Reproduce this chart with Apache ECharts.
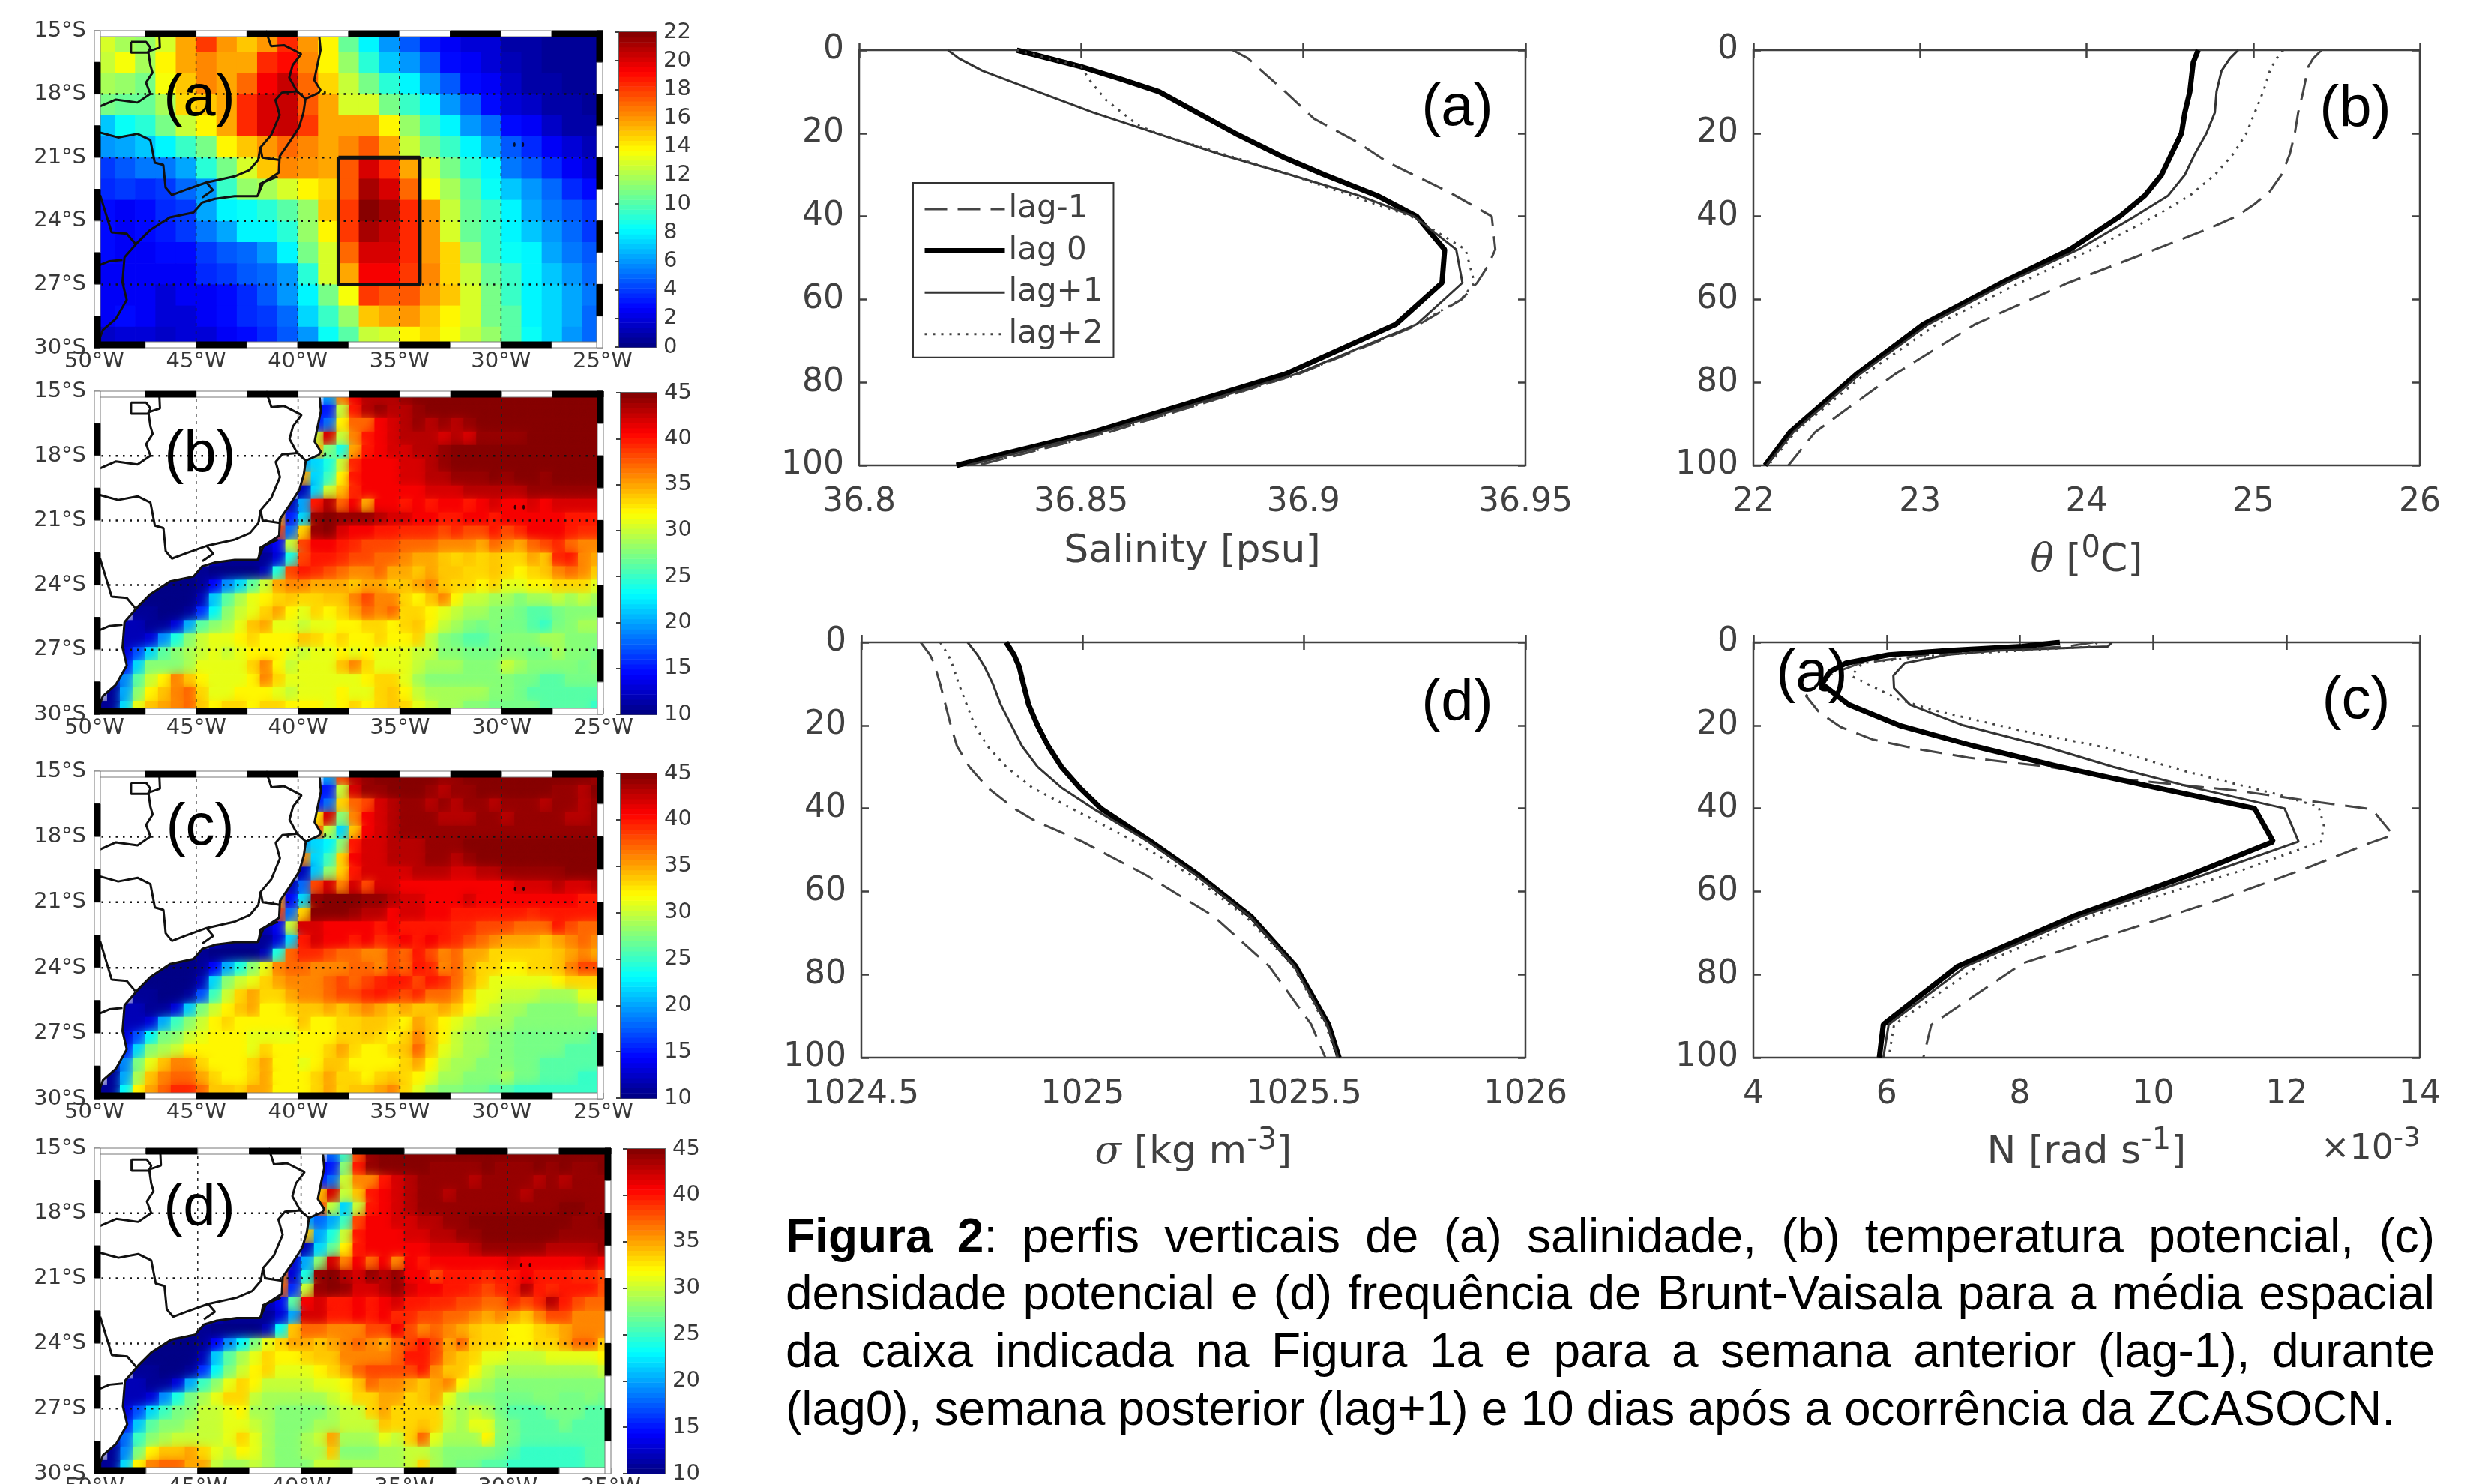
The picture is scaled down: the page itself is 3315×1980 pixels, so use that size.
<!DOCTYPE html>
<html><head><meta charset="utf-8">
<style>html,body{margin:0;padding:0;background:#fff}#c{width:3315px;height:1980px}</style>
<script src="https://cdn.jsdelivr.net/npm/echarts@6/dist/echarts.min.js"></script>
</head><body><div id="c"></div>
<script>
// ---------- profile data (depth in m) ----------
const lagNames=['lag-1','lag 0','lag+1','lag+2'];
const salDepthM1=[0,2,5,10,16.5,22,27,31,34.4,40,48,52,56,60,66,78,92,100];
const salM1=[36.8841,36.8876,36.8906,36.8959,36.9024,36.9119,36.9190,36.9267,36.9332,36.9424,36.9432,36.9415,36.9391,36.9356,36.9261,36.8989,36.8562,36.8266];
const salDepth0=[0,4,7,10,20,26,30,35,40,48,56,66,78,92,100];
const sal0=[36.8355,36.8500,36.8590,36.8675,36.8846,36.8960,36.9048,36.9166,36.9255,36.9318,36.9312,36.9208,36.8959,36.8527,36.8219];
const salDepthP1=[0,2,5,10,15,20,25,30,35,40,48,56,66,78,92,100];
const salP1=[36.8200,36.8225,36.8278,36.8402,36.8527,36.8669,36.8811,36.8971,36.9125,36.9249,36.9344,36.9358,36.9255,36.8983,36.8545,36.8243];
const salDepthP2=[0,4,7.5,12,18,20,30,40,48,56,60,66,78,92,100];
const salP2=[36.8355,36.8500,36.8521,36.8556,36.8627,36.8669,36.8971,36.9243,36.9365,36.9385,36.9355,36.9255,36.8989,36.8562,36.8261];

const thDepthM1=[0,2,4,10,15,20,25,30,34,37,40,43,48,56,66,78,92,100];
const thM1=[25.41,25.36,25.33,25.30,25.27,25.25,25.22,25.17,25.10,25.01,24.90,24.73,24.41,23.89,23.33,22.85,22.37,22.21];
const thDepth0=[0,3,10,15,20,25,30,35,40,48,56,66,78,92,100];
const th0=[24.67,24.64,24.62,24.59,24.57,24.51,24.45,24.35,24.20,23.90,23.49,23.02,22.62,22.22,22.07];
const thDepthP=[0,2,5,10,15,20,25,30,35,40,48,56,66,78,92,100];
const thP1=[24.91,24.86,24.81,24.78,24.77,24.72,24.65,24.59,24.49,24.29,23.95,23.52,23.05,22.64,22.24,22.08];
const thP2=[25.18,25.14,25.10,25.06,25.01,24.96,24.88,24.77,24.62,24.41,24.03,23.60,23.10,22.67,22.25,22.09];

const sgDepthM1=[0,3,5,10,15,20,25,30,35,40,43,48,56,66,78,92,100];
const sgM1=[1024.634,1024.655,1024.664,1024.678,1024.69,1024.702,1024.716,1024.744,1024.785,1024.845,1024.892,1024.999,1025.142,1025.296,1025.421,1025.516,1025.548];
const sgDepth=[0,3,6,10,15,20,25,30,35,40,48,56,66,78,92,100];
const sg0=[1024.827,1024.845,1024.857,1024.866,1024.878,1024.898,1024.922,1024.952,1024.993,1025.041,1025.154,1025.261,1025.380,1025.481,1025.555,1025.579];
const sgP1=[1024.740,1024.762,1024.779,1024.797,1024.815,1024.839,1024.863,1024.898,1024.952,1025.023,1025.148,1025.255,1025.377,1025.478,1025.552,1025.577];
const sgP2=[1024.678,1024.696,1024.708,1024.720,1024.738,1024.756,1024.785,1024.827,1024.886,1024.975,1025.118,1025.243,1025.368,1025.475,1025.548,1025.575];

const nDepthM1=[0,1,2,3,5,8,10.8,12.9,16.9,20.4,23.4,25.6,27.8,30,33.1,35.7,38.6,40.2,46.4,48.4,54.5,62.4,71.1,77.3,89.5,92.1,100];
const nM1=[9.1,8.7,7.6,6.6,5.6,5.1,4.91,4.79,4.99,5.31,5.79,6.43,7.23,8.44,9.64,11.24,12.52,13.28,13.6,13.24,12.28,10.92,9.24,8.04,6.91,6.67,6.55];
const nDepth0=[0,1,2,3,5,7,10,12,15,20,25,30,35,40,48,56,66,78,92,100];
const n0=[8.60,8.03,6.91,6.03,5.39,5.15,5.03,5.19,5.43,6.19,7.31,8.60,10.04,11.52,11.80,10.56,8.80,7.07,5.95,5.89];
const nDepthP1=[0,1,2,3,5,8,11,15,20,25,30,35,40,48,56,66,78,92,100];
const nP1=[9.38,9.32,7.64,6.91,6.27,6.10,6.11,6.35,7.15,8.36,9.40,10.6,11.97,12.18,10.76,8.92,7.19,6.03,5.95];
const nDepthP2=[0,1,2,3,5,8.1,13.8,16.2,21.3,25.2,30.9,36.7,39.6,44,48,55.4,65.9,77.7,92.1,100];
const nP2=[9.16,9.08,8.03,6.83,5.63,5.47,6.19,6.67,8.03,9.24,10.44,11.88,12.48,12.56,12.52,11.24,9.08,7.39,6.11,6.03];

// ---------- map tick labels ----------
const lonTicks=[-50,-45,-40,-35,-30,-25];
const latTicks=[-30,-27,-24,-21,-18,-15];
const boxLon=[-38,-34,-34,-38,-38];
const boxLat=[-21,-21,-27,-27,-21];
const islandsLon=[-29.34,-28.92,-38.67];
const islandsLat=[-20.39,-20.39,-17.93];

// ---------- map (a): 1 degree cells, 15S to 30S, 50W to 25W ----------
const fieldA=[
[13,12,11.5,13,15.5,18,16,15,16,18.5,16,14,10.5,8,6,4.5,3.2,2.7,2,1.8,1,.7,.5,.5,.5],
[12.5,13.5,12,14,15.5,16.5,15.5,15.5,18.5,19,16.5,14,11.5,9,7,6,4.5,3,2.5,1.8,1.2,.7,.6,.5,.5],
[12,11.5,11,13.5,15,16.5,15.5,17,19.5,20.5,17,14.5,12.5,11,9,8,6,4.5,3,2.5,1.5,1,.7,.5,.5],
[11,10.5,10.5,12,14.5,15,15.5,18.5,20,20.5,17.5,15.5,13,12.8,11,9.5,8,6,4.5,3,2,1.5,1,.7,.5],
[7,8.5,9,11,12.5,14,15.5,18.5,20,20.5,18,15.5,15.5,15.8,14,11.5,9.5,8,6,5,3,2.5,1.5,1,.7],
[6,6.5,7,8,9.5,11,14,15,16,17,16.5,15.5,16.5,17.5,15.5,12.5,11,9.5,8,6.5,4.5,3.5,2.7,1.8,1.2],
[4,4.5,5.5,5.5,6.5,9,11,13,15,16.5,16,15.5,17.5,20,18.5,15.5,13,11,9,8,5.5,4.5,3.5,2.5,2],
[3.5,4,3.5,4,5,6,9.5,11.5,12,13,14,14.5,17.5,21,20,17,13.5,12,10,8.5,7,6,5,3.5,3],
[3,2.7,3,3.5,4,6.5,8,8.5,9,10,11.5,15,18,22,21,18.5,16,12.5,10.5,9.5,8,6.5,5.5,4.5,3.8],
[3,2.7,3,3.2,4,5.5,6.5,8,8,9,11.5,14,18,21,20.5,18.5,16,13,10.5,9.5,8,7,6,5,4],
[3,2.5,2.7,3,3,4,4.5,5,6,8,11,13,17,20,20,18.5,16,14.5,11.5,9.5,8.5,8,6.5,5.5,4.5],
[2.5,2.7,2.7,2.5,2.5,3.5,4,4.5,5,6,9,13,15.5,19.5,19.5,18,16.5,14.5,12.5,10.5,9.5,8,7,6,5],
[2.5,2.7,2.5,2,2.5,2.7,3,3.5,4.5,6,8,11,13.5,18,17.5,17.5,16,15,13,11,9.5,8,7.5,6.5,5.5],
[2.5,3,2.7,2,2,2.5,3,3.5,4,5,7.5,9.5,11.5,15,15.5,16,15,14,12.8,11,10,8,7.5,6.5,5],
[1.5,2,1.8,1.5,1.8,2,2.7,3,3.5,4.5,6,8.5,10,12.5,13,14,14.5,13.5,12.5,11.5,10,8.5,7.5,6,5]];

// ---------- maps (b,c,d): 0.625 degree cells; each row lists ocean cells, aligned to the 25W edge ----------
const fieldB=[
[20,36,41,43,43,43,44,45,45,45,45,45,45,45,45,45,45,45,45,45,45,45],
[15,15,30,40,43,44,43,43,44,45,45,45,45,45,45,45,45,45,45,45,45,45,45],
[15,18,32,37,37,41,42,43,44,43,44,43,44,45,45,45,45,45,45,45,45,45,45],
[30,42,30,36,40,41,42,43,43,43,42,43,42,44,44,44,44,45,45,45,45,45,45],
[35,28,24,35,40,41,42,42,43,43,44,45,45,45,45,45,45,45,45,45,45,45,45],
[20,22,24,30,39,41,41,41,42,42,43,44,45,45,45,45,45,45,45,45,45,45,45,45],
[35,22,25,32,40,41,41,41,42,42,43,43,44,44,44,45,44,45,45,44,45,45,45,45],
[12,22,30,34,39,41,41,41,41,41,42,42,42,43,43,43,43,43,44,44,44,44,44,44],
[12,20,40,43,37,41,35,41,41,40,41,40,41,41,40,41,42,41,41,42,41,42,42,42,42],
[35,15,22,44,45,44,44,44,43,42,42,41,41,40,40,41,41,40,41,41,41,41,41,40,40,40],
[38,18,33,44,45,42,41,41,40,40,39,39,39,38,39,38,38,40,38,39,41,41,41,40,39,39],
[12,14,30,38,41,41,40,39,38,38,38,37,37,37,36,36,36,35,37,36,35,37,38,39,37,36,36],
[12,11,11,11,11,13,24,38,40,40,39,38,38,37,37,36,35,35,34,33,34,33,34,33,33,35,34,39,40,36,35],
[10,11,10,10,10,10,12,24,38,40,39,38,37,36,36,37,35,35,34,35,34,34,33,33,34,33,32,33,34,36,37,36,34],
[10,10,10,10,11,14,19,22,26,30,35,36,36,35,35,35,34,35,35,34,34,35,36,34,33,33,32,33,31,31,32,32,33,33,33,31],
[10,10,10,10,10,12,21,26,29,31,32,33,34,33,33,34,34,36,38,36,36,33,32,34,36,32,30,30,29,29,28,29,29,30,29,30,29],
[11,11,10,10,11,16,23,28,30,31,33,35,32,31,33,32,33,35,37,36,37,33,33,32,31,30,29,29,28,28,27,26,26,27,28,28,28],
[12,12,11,11,13,20,26,28,29,31,34,35,31,31,30,31,31,32,32,33,33,32,33,34,32,30,29,28,27,28,27,27,26,25,27,28,29,29],
[12,12,12,13,19,24,28,30,31,31,32,33,32,32,32,34,33,32,33,32,32,33,32,32,33,30,28,27,26,26,27,28,28,28,29,29,28,28,28],
[12,13,17,22,26,28,29,30,31,30,31,32,32,32,31,30,31,31,32,31,32,31,31,31,30,30,28,28,27,27,27,28,28,27,27,29,28,28,27],
[13,15,22,28,28,28,29,31,31,31,31,33,36,32,30,31,31,31,34,36,33,31,31,31,30,29,29,29,28,28,28,30,29,28,28,28,28,27,28],
[12,19,26,30,32,36,34,32,31,31,31,32,36,33,31,31,31,31,31,31,32,33,33,31,29,28,28,28,28,28,28,28,27,27,26,26,27,27,27],
[11,20,28,32,34,36,37,33,31,31,32,32,32,31,30,31,31,31,32,31,31,33,34,32,30,29,29,29,29,29,28,28,27,26,26,26,26,26,26],
[11,11,22,31,34,35,36,37,34,32,33,33,32,33,33,32,32,32,31,32,33,32,33,34,33,31,30,29,29,28,28,27,27,27,27,26,26,26,26,25]];
const fieldC=[
[20,38,43,44,45,45,45,45,45,44,44,45,45,45,45,45,45,45,45,45,45,44],
[15,15,30,42,44,44,45,45,45,44,43,44,44,45,45,45,45,45,45,44,44,43,45],
[15,18,33,37,38,42,43,44,44,43,44,43,44,44,43,44,44,44,43,44,44,43,44],
[32,42,28,36,41,42,43,44,44,44,43,43,43,44,44,43,44,44,44,44,43,43,44],
[38,30,22,34,41,42,43,44,44,44,44,44,44,44,44,44,44,44,44,44,44,44,44],
[20,22,23,28,40,42,42,43,43,43,44,44,44,45,45,45,45,45,45,45,45,45,45,45],
[36,22,25,33,41,42,42,43,43,43,44,44,43,44,45,45,45,45,45,45,45,45,45,45],
[12,21,28,33,40,42,42,42,42,43,43,43,42,42,43,43,44,44,44,44,44,45,45,45],
[12,18,38,42,36,42,38,42,42,41,41,41,41,41,41,41,41,41,42,42,42,43,42,42,43],
[35,14,22,44,45,45,45,44,44,43,42,42,41,41,41,42,41,41,41,41,41,41,41,41,40,40],
[38,18,33,45,45,45,44,43,43,41,42,42,41,41,40,40,40,40,40,40,39,40,40,40,40,40],
[12,14,30,42,42,41,41,41,41,40,41,40,40,40,40,39,39,38,38,38,37,37,37,40,38,37,37],
[12,11,11,11,11,13,22,40,42,41,41,40,41,39,40,41,40,41,40,39,38,37,36,35,35,35,34,35,36,37,36],
[10,11,10,10,10,10,12,24,37,39,39,38,37,37,36,36,38,37,40,38,36,37,35,35,33,33,33,33,33,34,35,36,35],
[10,10,10,10,11,14,20,24,28,31,36,37,37,36,36,36,37,37,36,38,37,40,39,36,37,35,33,33,32,32,33,33,34,36,38,38],
[10,10,10,10,10,12,22,28,30,31,33,35,36,36,36,37,38,37,38,39,40,40,38,40,39,37,35,33,31,31,31,31,31,32,33,33,33],
[11,11,10,10,11,17,25,30,33,35,33,33,35,36,36,37,38,38,39,40,39,38,39,37,37,36,33,31,31,30,30,30,29,29,29,31,31],
[12,12,11,11,13,21,27,30,32,34,35,32,32,33,34,34,35,34,35,36,35,34,35,34,34,35,34,32,31,30,29,29,28,28,28,28,29,29],
[12,12,12,13,20,25,28,30,32,33,32,32,32,32,32,34,32,32,33,33,34,34,33,32,35,34,32,31,30,29,29,29,28,28,28,28,28,28,28],
[12,13,17,23,27,28,30,31,32,32,32,31,31,31,31,32,32,32,33,33,34,33,32,33,36,34,32,30,29,29,28,28,27,27,27,27,27,27,26],
[13,15,22,28,29,30,32,32,32,32,32,31,33,32,32,32,32,33,35,33,32,32,33,34,37,34,31,30,29,29,28,28,27,27,27,27,26,26,26],
[12,19,27,31,34,36,36,33,32,32,32,33,35,32,32,31,32,34,34,32,32,32,32,33,35,32,30,29,29,28,28,28,27,27,26,26,26,26,26],
[11,20,29,34,36,37,37,35,33,32,32,33,35,32,32,32,33,35,33,33,32,33,34,33,32,31,29,29,28,28,28,29,27,27,26,26,26,25,25],
[11,11,23,32,35,37,39,39,37,34,34,33,35,35,32,32,32,33,35,33,34,34,35,36,33,31,29,28,28,27,27,26,26,25,25,25,25,25,25,25]];
const fieldD=[
[18,25,38,44,45,45,45,45,45,45,45,45,45,45,45,45,45,45,45,45,45,45],
[14,15,28,40,44,45,45,45,45,44,44,44,44,45,44,44,44,45,44,45,44,44,45],
[15,18,30,36,36,40,42,43,44,44,44,44,43,44,44,44,44,43,44,43,44,44,44],
[34,42,30,34,40,41,42,43,44,44,43,44,44,44,44,44,43,44,44,44,44,44,44],
[38,30,22,30,40,41,42,43,44,44,44,44,44,44,44,44,44,44,44,45,45,44,44],
[20,18,20,25,38,41,41,42,42,43,43,44,44,45,45,45,45,45,45,45,45,44,44,45],
[34,20,24,30,40,41,41,41,42,42,43,43,44,44,45,45,45,45,45,45,44,44,44,44],
[12,22,26,32,40,41,41,41,41,41,42,42,42,43,44,44,44,44,44,43,43,43,43,44],
[13,20,28,42,36,41,37,41,36,41,40,41,41,41,41,41,41,42,41,41,41,41,41,42,41],
[36,13,24,44,45,43,42,44,43,44,41,41,38,40,40,40,39,40,40,41,40,40,40,39,39,38],
[37,16,30,44,45,44,42,42,43,44,42,41,41,40,40,39,38,39,40,43,40,39,40,40,40,38],
[12,14,26,41,42,40,40,41,40,41,42,40,40,39,39,38,38,37,37,39,38,39,43,40,38,37,37],
[12,11,11,11,11,13,20,42,42,40,40,41,40,41,39,39,38,38,37,37,36,35,36,35,34,36,38,38,36,36,36],
[10,11,10,10,10,10,12,23,34,37,37,36,36,36,38,38,41,38,36,37,36,35,34,33,33,32,32,33,34,35,36,36,36],
[10,10,10,10,11,14,19,23,27,31,33,35,35,34,35,36,37,36,35,37,38,40,38,35,37,34,33,33,32,32,33,33,35,37,37,34],
[10,10,10,10,10,12,21,26,29,31,33,32,32,33,34,34,36,36,36,36,37,40,40,38,35,34,33,31,31,30,30,30,31,31,31,31,32],
[11,11,10,10,11,16,23,27,30,32,33,31,31,31,32,33,35,37,38,38,38,38,40,36,34,34,32,30,29,29,29,29,29,29,29,29,30],
[12,12,11,11,13,20,25,28,31,33,32,30,30,30,30,31,31,32,34,37,36,36,35,34,35,36,32,30,29,28,28,28,28,28,28,28,28,28],
[12,12,12,13,19,24,27,29,31,33,33,30,29,29,29,29,29,30,31,33,33,35,35,33,34,35,31,29,28,28,27,27,27,28,28,27,27,28,27],
[12,13,17,22,25,27,28,30,30,31,32,29,29,28,28,28,28,29,30,30,33,35,33,33,33,33,30,29,30,29,27,26,26,26,27,27,27,26,26],
[13,15,21,26,28,28,29,30,30,31,31,30,29,28,28,28,29,29,30,30,30,34,33,33,34,33,30,29,31,31,28,27,26,26,26,27,26,26,26],
[12,18,25,28,29,30,30,30,30,31,33,31,29,28,28,29,30,35,29,29,29,31,30,33,37,31,29,29,29,32,28,27,26,26,26,26,26,26,26],
[11,19,27,32,34,34,35,33,31,30,32,31,29,28,28,29,29,34,28,28,28,29,29,30,30,29,28,28,28,28,27,26,25,25,25,25,25,26,26],
[11,11,22,32,36,37,37,35,35,30,29,29,30,29,28,28,28,30,30,29,29,29,29,29,30,33,29,28,27,27,26,26,25,25,25,25,25,25,26,26]];

// ---------- coast and state borders [lon,lat] ----------
const coastLine=[[-38.94,-15],[-38.94,-15.3],[-38.88,-15.92],[-39.09,-16.87],[-39.19,-17.34],[-38.88,-17.81],[-38.98,-17.95],[-39.62,-18.22],[-39.72,-18.87],[-39.94,-19.58],[-40.42,-20.29],[-40.89,-20.94],[-40.93,-21.71],[-41.69,-22.18],[-41.99,-22.83],[-43.11,-22.83],[-44.07,-22.95],[-44.7,-23.13],[-45.13,-23.6],[-46.29,-23.83],[-47.25,-24.42],[-47.88,-25.02],[-48.52,-25.72],[-48.62,-26.9],[-48.41,-27.73],[-48.94,-28.62],[-49.58,-29.15],[-49.72,-29.5],[-49.72,-30]];
const borders=[
[[-46.82,-15],[-46.78,-15.8],[-47.35,-15.98],[-47.25,-16.63],[-47.14,-16.98],[-47.46,-17.46],[-47.25,-17.99],[-47.88,-18.4],[-48.94,-18.26],[-49.72,-18.58],[-50,-18.6]],
[[-48.2,-15.53],[-47.46,-15.53],[-47.25,-15.8],[-47.35,-16.04],[-48.2,-16.04],[-48.2,-15.53]],
[[-41.57,-15],[-41.31,-15.74],[-40.68,-15.69],[-39.83,-16.1],[-40.25,-16.63],[-40.42,-17.22],[-40.04,-17.87],[-39.62,-18.22]],
[[-40.04,-17.87],[-40.78,-17.93],[-41.1,-18.28],[-40.89,-18.99],[-41.31,-19.94],[-41.84,-20.53],[-41.74,-21.0],[-40.89,-21.12]],
[[-41.84,-20.53],[-41.95,-21.12],[-42.37,-21.59],[-43.11,-21.89],[-44.49,-22.18],[-45.55,-22.54],[-46.19,-22.77],[-46.5,-22.42],[-46.61,-21.35],[-47.03,-21.24],[-47.25,-20.17],[-47.88,-19.88],[-48.83,-20.05],[-49.26,-19.94],[-49.72,-19.82],[-50,-19.84]],
[[-40.99,-21.89],[-41.84,-22.24],[-41.95,-22.83]],
[[-44.49,-22.18],[-44.17,-22.54],[-44.7,-22.89]],
[[-49.72,-22.77],[-49.15,-24.54],[-48.41,-24.6],[-47.99,-25.07]],
[[-49.72,-26.08],[-49.26,-25.9],[-48.62,-25.84]]];

const captionLines=[
['Figura','2:','perfis','verticais','de','(a)','salinidade,','(b)','temperatura','potencial,','(c)'],
['densidade','potencial','e','(d)','frequência','de','Brunt-Vaisala','para','a','média','espacial'],
['da','caixa','indicada','na','Figura','1a','e','para','a','semana','anterior','(lag-1),','durante'],
['(lag0),','semana','posterior','(lag+1)','e','10','dias','após','a','ocorrência','da','ZCASOCN.']];

// ---------- helpers ----------
const INK='#404040', ARIAL='"Liberation Sans",Arial,sans-serif', DEJA='"DejaVu Sans",sans-serif';
function clip01(x){return Math.max(0,Math.min(1,x));}
function jet(f){
  f=(Math.floor(clip01(f)*63.999)+.5)/64;
  const c=g=>Math.round(255*clip01(1.5-Math.abs(4*f-g)));
  return 'rgb('+c(3)+','+c(2)+','+c(1)+')';
}
const grids=[],xAxes=[],yAxes=[],series=[],graphics=[];
function annotate(txt,x,y){graphics.push({type:'text',x:x,y:y,z:100,silent:true,style:{text:txt,fill:'#000',font:'78px '+ARIAL,align:'center',verticalAlign:'middle'}});}

function alignRows(field,step){
  const out=[];
  field.forEach((row,r)=>{
    const start=Math.round(25/step)-row.length;
    row.forEach((v,i)=>out.push([-50+(start+i)*step,-15-r*step,v,step]));
  });
  return out;
}
function addMap(box,cells,vmin,vmax,land,label,soft){
  const g=grids.length,xi=xAxes.length,yi=yAxes.length;
  grids.push({left:box[0],top:box[1],width:box[2]-box[0],height:box[3]-box[1],show:false,outerBoundsMode:'none'});
  const ls={fontSize:29,color:'#383838',fontFamily:DEJA};
  xAxes.push({gridIndex:g,type:'value',min:-50,max:-25,interval:5,axisLine:{show:false},axisTick:{show:false},splitLine:{show:false},
    axisLabel:Object.assign({margin:4,formatter:v=>Math.abs(v)+'°W'},ls)});
  yAxes.push({gridIndex:g,type:'value',min:-30,max:-15,interval:3,axisLine:{show:false},axisTick:{show:false},splitLine:{show:false},
    axisLabel:Object.assign({margin:11,formatter:v=>Math.abs(v)+'°S'},ls)});
  const base={xAxisIndex:xi,yAxisIndex:yi,animation:false,silent:true};
  series.push(Object.assign({type:'custom',data:cells,progressive:0,clip:true,encode:{x:0,y:1},
    renderItem(p,api){
      const d=api.value(3), a=api.coord([api.value(0),api.value(1)]), b=api.coord([api.value(0)+d,api.value(1)-d]);
      const col=jet((api.value(2)-vmin)/(vmax-vmin));
      return {type:'rect',shape:{x:a[0],y:a[1],width:b[0]-a[0]+.7,height:b[1]-a[1]+.7},style:{fill:col,shadowBlur:soft,shadowColor:col}};
    }},base));
  if(land){
    const ring=coastLine.concat([[-50,-30],[-50,-15]]);
    series.push(Object.assign({type:'custom',data:[[-50,-15]],clip:true,encode:{x:0,y:1},
      renderItem(p,api){return {type:'polygon',shape:{points:ring.map(q=>api.coord(q))},style:{fill:'#fff'}};}},base));
  }
  const addLine=(data,w,dash,col)=>series.push(Object.assign({type:'line',data:data,showSymbol:false,symbol:'none',lineStyle:{width:w,type:dash||'solid',color:col||'#000'},clip:true},base));
  latTicks.slice(1,-1).forEach(la=>addLine([[-50,la],[-25,la]],2.5,[2.5,7],'#111'));
  lonTicks.slice(1,-1).forEach(lo=>addLine([[lo,-15],[lo,-30]],1.5,[4,6],'#222'));
  addLine(coastLine,3,null,'#111');
  borders.forEach(b=>addLine(b,3,null,'#111'));
  series.push(Object.assign({type:'scatter',symbol:'circle',symbolSize:[3,6],itemStyle:{color:'#000'},data:islandsLon.map((lo,i)=>[lo,islandsLat[i]])},base));
  // checkered frame of the map: ten alternating pieces per side
  const frame=[];for(let s=0;s<4;s++)for(let i=0;i<10;i++)frame.push([-50,-15,s,i]);
  const bw=8;
  series.push(Object.assign({type:'custom',data:frame,clip:false,encode:{x:0,y:1},z:5,
    renderItem(p,api){
      const c=p.coordSys,s=api.value(2),i=api.value(3);let r;
      const lx=c.width/10,ly=c.height/10;
      if(s===0) r={x:c.x+i*lx,y:c.y,width:lx,height:bw};
      if(s===1) r={x:c.x+i*lx,y:c.y+c.height-bw,width:lx,height:bw};
      if(s===2) r={x:c.x,y:c.y+i*ly,width:bw,height:ly};
      if(s===3) r={x:c.x+c.width-bw,y:c.y+i*ly,width:bw,height:ly};
      const black=(s===1||s===3)?(i%2===0):(i%2===1);
      return {type:'rect',shape:r,style:{fill:black?'#000':'#fff',stroke:black?'#000':'#777',lineWidth:1}};
    }},base));
  annotate(label[0],label[1],label[2]);
  return [xi,yi];
}
function addBar(box,vmin,vmax,step){
  const g=grids.length,xi=xAxes.length,yi=yAxes.length;
  grids.push({left:box[0],top:box[1],width:box[2]-box[0],height:box[3]-box[1],show:true,borderColor:'#666',borderWidth:2,backgroundColor:'transparent',outerBoundsMode:'none'});
  xAxes.push({gridIndex:g,type:'value',min:0,max:1,show:false});
  yAxes.push({gridIndex:g,type:'value',position:'right',min:vmin,max:vmax,interval:step,z:6,axisLine:{show:false},splitLine:{show:false},
    axisTick:{show:true,inside:true,length:6,lineStyle:{color:INK,width:2}},axisLabel:{margin:10,fontSize:29,color:'#383838',fontFamily:DEJA}});
  const lv=[];for(let i=0;i<64;i++)lv.push([0,vmin+(vmax-vmin)*i/64,vmin+(vmax-vmin)*(i+1)/64,(i+.5)/64]);
  series.push({type:'custom',xAxisIndex:xi,yAxisIndex:yi,data:lv,animation:false,silent:true,clip:false,encode:{y:1},
    renderItem(p,api){
      const a=api.coord([0,api.value(2)]),b=api.coord([1,api.value(1)]);
      return {type:'rect',shape:{x:a[0],y:a[1],width:b[0]-a[0],height:b[1]-a[1]+.6},style:{fill:jet(api.value(3))}};
    }});
}
const lagStyles=[
 {width:3,type:[30,14],color:'#444'},
 {width:7,type:'solid',color:'#000'},
 {width:3,type:'solid',color:'#333'},
 {width:3,type:[3,8],color:'#444'}];
function addProfile(box,xr,step,fmt,name,nameGap,profiles,rich){
  const g=grids.length;
  grids.push({left:box[0],top:box[1],width:box[2]-box[0],height:box[3]-box[1],show:true,borderColor:INK,borderWidth:2.5,backgroundColor:'transparent',outerBoundsMode:'none'});
  const tick={show:true,inside:true,length:10,lineStyle:{color:INK,width:2.5}};
  const lab={fontSize:44,color:INK,fontFamily:DEJA};
  const xi=xAxes.length,yi=yAxes.length;
  xAxes.push({gridIndex:g,type:'value',position:'bottom',min:xr[0],max:xr[1],interval:step,axisLine:{show:false},axisTick:tick,splitLine:{show:false},
    axisLabel:Object.assign({margin:28,formatter:fmt},lab),name:name,nameLocation:'middle',nameGap:nameGap,
    nameTextStyle:{fontSize:52,color:INK,fontFamily:DEJA,verticalAlign:'middle',rich:rich||{}}});
  xAxes.push({gridIndex:g,type:'value',position:'top',min:xr[0],max:xr[1],interval:step,axisLine:{show:false},axisTick:tick,axisLabel:{show:false},splitLine:{show:false}});
  yAxes.push({gridIndex:g,type:'value',position:'left',inverse:true,min:0,max:100,interval:20,axisLine:{show:false},axisTick:tick,splitLine:{show:false},axisLabel:Object.assign({margin:20,padding:[7,0,0,0]},lab)});
  yAxes.push({gridIndex:g,type:'value',position:'right',inverse:true,min:0,max:100,interval:20,axisLine:{show:false},axisTick:tick,axisLabel:{show:false},splitLine:{show:false}});
  profiles.forEach((p,i)=>series.push({type:'line',name:lagNames[i],xAxisIndex:xi,yAxisIndex:yi,showSymbol:false,symbol:'none',animation:false,silent:true,clip:true,
    lineStyle:lagStyles[i],itemStyle:{color:lagStyles[i].color},data:p[1].map((v,k)=>[v,p[0][k]])}));
}

// ---------- profiles ----------
const supRich={i:{fontStyle:'italic',fontSize:52,color:INK,fontFamily:'"DejaVu Serif",serif'},s:{fontSize:40,color:INK,fontFamily:DEJA,padding:[0,0,30,0]}};
addProfile([1146,67,2035,621],[36.8,36.95],.05,v=>String(+v.toFixed(2)),'Salinity [psu]',115,
  [[salDepthM1,salM1],[salDepth0,sal0],[salDepthP1,salP1],[salDepthP2,salP2]]);
addProfile([2339,67,3228,621],[22,26],1,v=>String(v),'{i|θ} [{s|0}C]',127,
  [[thDepthM1,thM1],[thDepth0,th0],[thDepthP,thP1],[thDepthP,thP2]],supRich);
addProfile([1149,857,2035,1411],[1024.5,1026],.5,v=>String(v),'{i|σ} [kg m{s|-3}]',127,
  [[sgDepthM1,sgM1],[sgDepth,sg0],[sgDepth,sgP1],[sgDepth,sgP2]],supRich);
addProfile([2339,857,3228,1411],[4,14],2,v=>String(v),'N [rad s{s|-1}]',127,
  [[nDepthM1,nM1],[nDepth0,n0],[nDepthP1,nP1],[nDepthP2,nP2]],supRich);

// ---------- maps and colour bars ----------
const axA=addMap([126,41,804,464],alignRows(fieldA,1),0,22,false,['(a)',266,132],0);
series.push({type:'line',xAxisIndex:axA[0],yAxisIndex:axA[1],data:boxLon.map((v,i)=>[v,boxLat[i]]),showSymbol:false,symbol:'none',animation:false,silent:true,z:4,lineStyle:{width:5,color:'#111'}});
addBar([826,43,875,463],0,22,2);
addMap([126,522,805,953],alignRows(fieldB,.625),10,45,true,['(b)',267,608],14);
addBar([828,524,876,953],10,45,5);
addMap([126,1029,805,1466],alignRows(fieldC,.625),10,45,true,['(c)',267,1105],14);
addBar([828,1032,876,1465],10,45,5);
addMap([126,1532,815,1966],alignRows(fieldD,.625),10,45,true,['(d)',266,1613],14);
addBar([837,1533,887,1966],10,45,5);

// ---------- panel letters of the profiles ----------
annotate('(a)',1944,145);annotate('(b)',3142,147);annotate('(d)',1944,939);annotate('(c)',3143,936);annotate('(a)',2417,900);
graphics.push({type:'text',x:3096,y:1534,z:100,silent:true,style:{text:'×10{s|-3}',fill:INK,font:'46px '+DEJA,align:'left',verticalAlign:'middle',
  rich:{s:{fontSize:36,fill:INK,fontFamily:DEJA,padding:[0,0,28,0]}}}});

// ---------- caption, justified word by word ----------
const capFs=64,capLeft=1048,capRights=[3248,3248,3248,3195],capBase=[1672,1748,1825,1902];
const mctx=document.createElement('canvas').getContext('2d');
function wWidth(w,first){
  mctx.font='400 '+capFs+'px '+ARIAL;
  if(first===0){mctx.font='700 '+capFs+'px '+ARIAL;return mctx.measureText(w).width;}
  if(first===1){mctx.font='700 '+capFs+'px '+ARIAL;const a=mctx.measureText('2').width;mctx.font='400 '+capFs+'px '+ARIAL;return a+mctx.measureText(':').width;}
  return mctx.measureText(w).width;
}
captionLines.forEach((words,l)=>{
  const ws=words.map((w,i)=>wWidth(w,l===0?i:-1));
  const total=ws.reduce((a,b)=>a+b,0);
  const gap=(capRights[l]-capLeft-total)/(words.length-1);
  let x=capLeft;
  words.forEach((w,i)=>{
    let st={fill:'#000',font:'400 '+capFs+'px '+ARIAL,align:'left',verticalAlign:'bottom'};
    let txt=w;
    if(l===0&&i===0){st.font='700 '+capFs+'px '+ARIAL;}
    if(l===0&&i===1){txt='{b|2}:';st.rich={b:{fontWeight:700,fontSize:capFs,fontFamily:ARIAL,fill:'#000'}};}
    st.text=txt;
    graphics.push({type:'text',x:x,y:capBase[l]+Math.round(capFs*.21),z:100,silent:true,style:st});
    x+=ws[i]+gap;
  });
});

const chart=echarts.init(document.getElementById('c'),null,{renderer:'canvas',width:3315,height:1980});
chart.setOption({
  animation:false,backgroundColor:'#fff',
  grid:grids,xAxis:xAxes,yAxis:yAxes,series:series,graphic:{elements:graphics},
  legend:{show:true,data:lagNames.map((n,i)=>({name:n,lineStyle:lagStyles[i]})),left:1218,top:244,orient:'vertical',selectedMode:false,itemWidth:107,itemHeight:1,itemGap:11.6,padding:[13,14,9,12],
    backgroundColor:'#fff',borderColor:'#333',borderWidth:2,z:50,
    textStyle:{fontSize:42,lineHeight:44,color:INK,fontFamily:DEJA}}
});
</script></body></html>
